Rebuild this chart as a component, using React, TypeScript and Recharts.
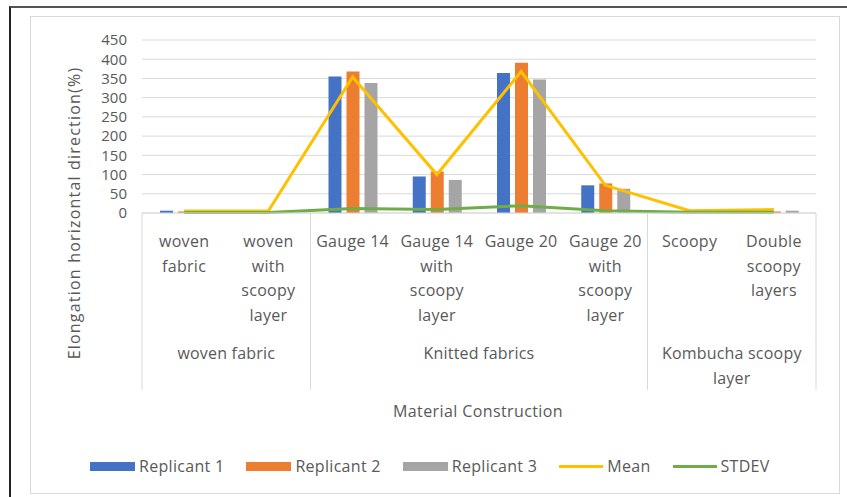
import React from "react";
import {
  ComposedChart,
  Bar,
  Line,
  XAxis,
  YAxis,
  CartesianGrid,
} from "recharts";

const categories = [
  "woven\nfabric",
  "woven\nwith\nscoopy\nlayer",
  "Gauge 14",
  "Gauge 14\nwith\nscoopy\nlayer",
  "Gauge 20",
  "Gauge 20\nwith\nscoopy\nlayer",
  "Scoopy",
  "Double\nscoopy\nlayers",
];

const groupLabels = ["woven fabric", "Knitted fabrics", "Kombucha scoopy\nlayer"];
const groupStarts = [0, 2, 6];
const groupSpans = [2, 4, 2];

const replicant1 = [6, 1, 355, 95, 364, 72, 5, 2];
const replicant2 = [4, 1, 368, 108, 391, 77, 3, 4];
const replicant3 = [2, 1, 338, 86, 347, 63, 4, 6];
const mean = [5, 5, 354, 100, 368, 72, 6, 9];
const stdev = [1, 1, 12, 9, 19, 6, 2, 2];

const yTicks = [0, 50, 100, 150, 200, 250, 300, 350, 400, 450];

const data = categories.map((c, i) => ({
  name: c,
  r1: replicant1[i],
  r2: replicant2[i],
  r3: replicant3[i],
  mean: mean[i],
  stdev: stdev[i],
}));

const W = 847;
const H = 497;
const margin = { top: 40, right: 31, left: 82, bottom: 104 };
const yAxisWidth = 60;
const band = (W - margin.left - margin.right - yAxisWidth) / categories.length;
const textColor = "#595959";
const font = "'Open Sans', sans-serif";

const CategoryTick = (props: any) => {
  const { x, y, payload, index } = props;
  const lines = String(payload.value).split("\n");
  const gi = groupStarts.indexOf(index);
  return (
    <g>
      {lines.map((l, i) => (
        <text
          key={i}
          x={x}
          y={y + 34 + i * 24.5}
          textAnchor="middle"
          fill={textColor}
          fontSize={16}
          letterSpacing={0.3}
          fontFamily={font}
        >
          {l}
        </text>
      ))}
      {gi >= 0 && (
        <g>
          <line x1={x - band / 2} x2={x - band / 2} y1={y} y2={y + 177} stroke="#d9d9d9" />
          {groupLabels[gi].split("\n").map((l, i) => (
            <text
              key={i}
              x={x - band / 2 + (groupSpans[gi] * band) / 2}
              y={y + 146 + i * 25}
              textAnchor="middle"
              fill={textColor}
              fontSize={16}
              letterSpacing={0.2}
              fontFamily={font}
            >
              {l}
            </text>
          ))}
        </g>
      )}
      {index === categories.length - 1 && (
        <line x1={x + band / 2} x2={x + band / 2} y1={y} y2={y + 177} stroke="#d9d9d9" />
      )}
    </g>
  );
};

const legendItems = [
  { label: "Replicant 1", color: "#4472C4", type: "bar" },
  { label: "Replicant 2", color: "#ED7D31", type: "bar" },
  { label: "Replicant 3", color: "#A5A5A5", type: "bar" },
  { label: "Mean", color: "#FFC000", type: "line" },
  { label: "STDEV", color: "#70AD47", type: "line" },
];

const App = () => {
  return (
    <div style={{ position: "relative", width: W, height: H, background: "#fff", fontFamily: font }}>
      <style>{"body{margin:0}"}</style>
      <div style={{ position: "absolute", left: 9, top: 6, width: W - 9, height: H - 6, borderLeft: "2px solid #222", borderTop: "2px solid #555" }} />
      <div style={{ position: "absolute", left: 30, top: 16, width: 808, height: 476, border: "1px solid #d9d9d9" }} />
      <div style={{ position: "absolute", left: 0, top: 0 }}>
        <ComposedChart width={W} height={H} data={data} margin={margin} barGap={5}>
          <CartesianGrid vertical={false} stroke="#d9d9d9" />
          <XAxis
            dataKey="name"
            interval={0}
            height={180}
            tickLine={false}
            tickSize={0}
            tickMargin={0}
            axisLine={{ stroke: "#d9d9d9" }}
            tick={<CategoryTick />}
          />
          <YAxis
            width={yAxisWidth}
            domain={[0, 450]}
            ticks={yTicks}
            interval={0}
            axisLine={false}
            tickLine={false}
            tickSize={0}
            tickMargin={15}
            tick={{ fill: textColor, fontSize: 15, fontFamily: font }}
          />
          <Bar dataKey="r1" name="Replicant 1" fill="#4472C4" barSize={13} isAnimationActive={false} />
          <Bar dataKey="r2" name="Replicant 2" fill="#ED7D31" barSize={13} isAnimationActive={false} />
          <Bar dataKey="r3" name="Replicant 3" fill="#A5A5A5" barSize={13} isAnimationActive={false} />
          <Line dataKey="mean" name="Mean" type="linear" stroke="#FFC000" strokeWidth={3} dot={false} isAnimationActive={false} />
          <Line dataKey="stdev" name="STDEV" type="linear" stroke="#70AD47" strokeWidth={3} dot={false} isAnimationActive={false} />
        </ComposedChart>
      </div>
      <div
        style={{
          position: "absolute",
          left: 74,
          top: 213,
          transform: "translate(-50%, -50%) rotate(-90deg)",
          whiteSpace: "nowrap",
          color: textColor,
          fontSize: 16,
          letterSpacing: 1.2,
        }}
      >
        Elongation horizontal direction(%)
      </div>
      <div
        style={{
          position: "absolute",
          left: 478,
          top: 411,
          transform: "translate(-50%, -50%)",
          whiteSpace: "nowrap",
          color: textColor,
          fontSize: 16,
          letterSpacing: 0.4,
        }}
      >
        Material Construction
      </div>
      <div
        style={{
          position: "absolute",
          left: 90,
          top: 455,
          display: "flex",
          alignItems: "center",
          color: textColor,
          fontSize: 16,
          letterSpacing: 0.3,
        }}
      >
        {legendItems.map((it) => (
          <div key={it.label} style={{ display: "flex", alignItems: "center", marginRight: 22 }}>
            <div
              style={{
                width: it.type === "bar" ? 45 : 44,
                height: it.type === "bar" ? 9 : 3,
                background: it.color,
                marginRight: 4,
              }}
            />
            <span>{it.label}</span>
          </div>
        ))}
      </div>
    </div>
  );
};

export default App;
